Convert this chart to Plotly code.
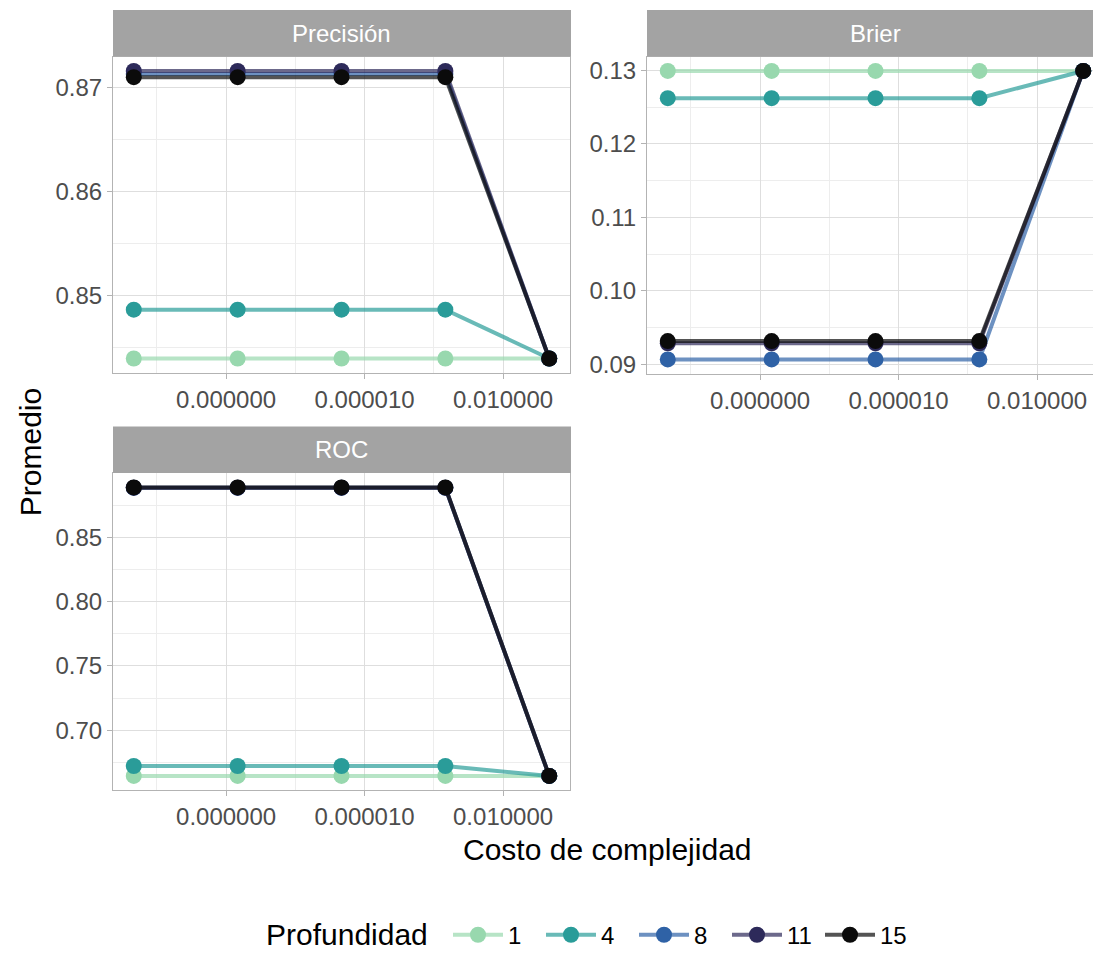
import plotly.graph_objects as go
import numpy as np

W, H = 1093, 958

# ---- data ----
cost = [1e-10, 1.778e-8, 3.162e-6, 5.623e-4, 0.1]
depths = ["1", "4", "8", "11", "15"]
metrics = ["Precisión", "Brier", "ROC"]

precision = {
    "1": [0.8439, 0.8439, 0.8439, 0.8439, 0.8439],
    "4": [0.8486, 0.8486, 0.8486, 0.8486, 0.8439],
    "8": [0.8713, 0.8713, 0.8713, 0.8713, 0.8439],
    "11": [0.8716, 0.8716, 0.8716, 0.8716, 0.8439],
    "15": [0.8710, 0.8710, 0.8710, 0.8710, 0.8439],
}
brier = {
    "1": [0.1299, 0.1299, 0.1299, 0.1299, 0.1299],
    "4": [0.1262, 0.1262, 0.1262, 0.1262, 0.1299],
    "8": [0.0907, 0.0907, 0.0907, 0.0907, 0.1299],
    "11": [0.0929, 0.0929, 0.0929, 0.0929, 0.1299],
    "15": [0.0932, 0.0932, 0.0932, 0.0932, 0.1299],
}
roc = {
    "1": [0.6646, 0.6646, 0.6646, 0.6646, 0.6646],
    "4": [0.6723, 0.6723, 0.6723, 0.6723, 0.6646],
    "8": [0.8884, 0.8884, 0.8884, 0.8884, 0.6646],
    "11": [0.8885, 0.8885, 0.8885, 0.8885, 0.6646],
    "15": [0.8887, 0.8887, 0.8887, 0.8887, 0.6646],
}
x_tickvals = [1e-8, 1e-5, 1e-2]
x_ticktext = ["0.000000", "0.000010", "0.010000"]
x_minor = [10**-9.5, 10**-6.5, 10**-3.5]

colors = {"1": "#98D8AE", "4": "#2A9C99", "8": "#2F62A6", "11": "#2D2A5A", "15": "#0B0B0B"}


def rgba(hexc, a):
    h = hexc.lstrip("#")
    return f"rgba({int(h[0:2],16)},{int(h[2:4],16)},{int(h[4:6],16)},{a})"


data_sets = [precision, brier, roc]
y_ticks = [[0.85, 0.86, 0.87], [0.09, 0.10, 0.11, 0.12, 0.13], [0.70, 0.75, 0.80, 0.85]]
y_minor = [0.005, 0.005, 0.025]
y_fmt = [".2f", ".2f", ".2f"]

# panel pixel boxes (left, right, top, bottom)
panels = [(113, 570, 57, 376), (647, 1093, 57, 377), (113, 570, 477, 797)]
full_width = 570 - 113

fig = go.Figure()
for i, ds in enumerate(data_sets):
    suffix = "" if i == 0 else str(i + 1)
    for d in depths:
        fig.add_trace(go.Scatter(
            x=cost, y=ds[d], mode="lines+markers", name=d,
            legendgroup=d, showlegend=(i == 0),
            line=dict(color=rgba(colors[d], 0.7), width=4),
            marker=dict(color=colors[d], size=16),
            xaxis="x" + suffix, yaxis="y" + suffix,
        ))

lx = np.log10(cost)
xr = lx.max() - lx.min()
x_range = [lx.min() - 0.05 * xr, lx.max() + 0.05 * xr]

shapes = []
annotations = []
for i, ds in enumerate(data_sets):
    suffix = "" if i == 0 else str(i + 1)
    l, r, t, b = panels[i]
    allv = np.concatenate([np.array(v) for v in ds.values()])
    yr = allv.max() - allv.min()
    y_range = [allv.min() - 0.05 * yr, allv.max() + 0.05 * yr]
    xrng = list(x_range)
    if (r - l) != full_width:
        xrng[1] = x_range[0] + (x_range[1] - x_range[0]) * (r - l) / full_width
    fig.layout["xaxis" + suffix] = dict(
        domain=[l / W, r / W], anchor="y" + suffix, type="log", range=xrng,
        tickvals=x_tickvals, ticktext=x_ticktext,
        ticks="outside", ticklen=5, tickcolor="#B3B3B3", tickwidth=1,
        showline=True, mirror=True, linecolor="#B3B3B3", linewidth=1,
        showgrid=True, gridcolor="#DEDEDE", gridwidth=1, zeroline=False,
        minor=dict(tickvals=x_minor, showgrid=True, gridcolor="#EDEDED", gridwidth=0.6, ticks=""),
        tickfont=dict(size=24, color="#4D4D4D"),
    )
    fig.layout["yaxis" + suffix] = dict(
        domain=[1 - b / H, 1 - t / H], anchor="x" + suffix, range=y_range,
        tickvals=y_ticks[i], tickformat=y_fmt[i],
        ticks="outside", ticklen=5, tickcolor="#B3B3B3", tickwidth=1,
        showline=True, mirror=True, linecolor="#B3B3B3", linewidth=1,
        showgrid=True, gridcolor="#DEDEDE", gridwidth=1, zeroline=False,
        minor=dict(dtick=y_minor[i], tick0=0, showgrid=True, gridcolor="#EDEDED", gridwidth=0.6, ticks=""),
        tickfont=dict(size=24, color="#4D4D4D"),
    )
    # strip
    shapes.append(dict(type="rect", xref="paper", yref="paper",
                       x0=l / W, x1=(r + 1) / W, y0=1 - t / H, y1=1 - (t - 47) / H,
                       fillcolor="#A3A3A3", line=dict(width=0), layer="above"))
    annotations.append(dict(text=metrics[i], xref="paper", yref="paper",
                            x=(l + (l + full_width)) / 2 / W, y=1 - (t - 23.5) / H,
                            xanchor="center", yanchor="middle", showarrow=False,
                            font=dict(size=24, color="white")))

annotations.append(dict(text="Costo de complejidad", xref="paper", yref="paper",
                        x=607 / W, y=1 - 857 / H, xanchor="center", yanchor="middle",
                        showarrow=False, font=dict(size=30, color="black")))
annotations.append(dict(text="Promedio", xref="paper", yref="paper",
                        x=30 / W, y=1 - 456 / H, xanchor="center", yanchor="middle",
                        textangle=-90, showarrow=False, font=dict(size=30, color="black")))
annotations.append(dict(text="Profundidad", xref="paper", yref="paper",
                        x=264 / W, y=1 - 942 / H, xanchor="left", yanchor="middle",
                        showarrow=False, font=dict(size=30, color="black")))

fig.update_layout(
    width=W, height=H, margin=dict(l=0, r=0, t=0, b=0),
    paper_bgcolor="white", plot_bgcolor="white",
    font=dict(family="Liberation Sans, Arial, sans-serif"),
    shapes=shapes, annotations=annotations,
    legend=dict(orientation="h", x=448 / W, xanchor="left", y=1 - 943 / H, yanchor="middle",
                font=dict(size=24, color="black"), itemwidth=50,
                entrywidth=28, entrywidthmode="pixels"),
)

fig.write_html("out.html")
